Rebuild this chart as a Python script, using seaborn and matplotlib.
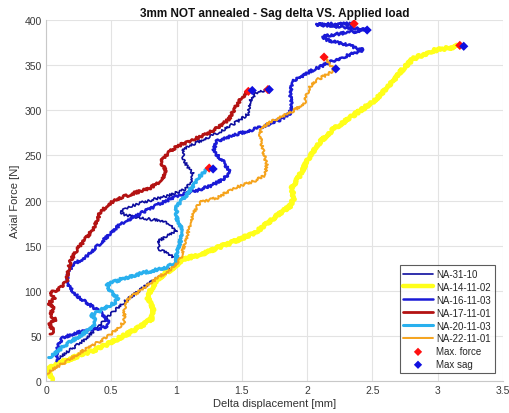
import numpy as np
import pandas as pd
import matplotlib
matplotlib.use("Agg")
import matplotlib.pyplot as plt
import seaborn as sns

# ---- measured curves: delta displacement [mm] vs axial force [N] ----
na31_x = [0.08, 0.18, 0.28, 0.40, 0.51, 0.62, 0.75, 0.87, 0.97, 1.02, 0.95, 0.87, 0.85, 0.93, 1.00,
          0.90, 0.72, 0.60, 0.57, 0.62, 0.74, 0.93, 1.06, 1.10, 1.13, 1.08, 1.05, 1.05, 1.15, 1.33,
          1.46, 1.55, 1.56, 1.61, 1.70]
na31_y = [24, 34, 44, 60, 76, 90, 104, 116, 126, 133, 140, 146, 154, 161, 167,
          177, 181, 184, 188, 192, 198, 205, 212, 218, 229, 238, 248, 257, 264, 276,
          287, 296, 310, 319, 323]

na14_x = [0.05, 0.03, 0.01, 0.10, 0.25, 0.40, 0.50, 0.62, 0.72, 0.81, 0.82, 0.78, 0.80, 0.84, 0.90,
          0.96, 1.05, 1.18, 1.30, 1.43, 1.61, 1.74, 1.87, 1.90, 1.88, 1.94, 2.02, 2.10, 2.20, 2.35,
          2.50, 2.61, 2.71, 2.81, 2.96, 3.08, 3.17]
na14_y = [0, 6, 13, 20, 28, 36, 43, 52, 60, 69, 80, 92, 100, 110, 118,
          124, 135, 140, 147, 154, 165, 180, 194, 203, 213, 227, 249, 265, 279, 294,
          309, 324, 342, 357, 366, 369, 372]

na16_x = [0.08, 0.08, 0.09, 0.12, 0.22, 0.35, 0.47, 0.48, 0.42, 0.33, 0.24, 0.18, 0.16, 0.17, 0.22,
          0.31, 0.44, 0.57, 0.70, 0.85, 1.00, 1.15, 1.26, 1.36, 1.41, 1.36, 1.28, 1.31, 1.45, 1.64,
          1.80, 1.87, 1.88, 1.87, 1.89, 2.02, 2.20, 2.43, 2.30, 2.15, 2.12, 2.30, 2.46, 2.30, 2.07,
          2.25, 2.36]
na16_y = [22, 30, 38, 47, 53, 57, 60, 65, 76, 85, 94, 104, 112, 122, 130,
          138, 156, 174, 184, 195, 205, 211, 216, 224, 231, 243, 255, 266, 273, 281,
          290, 297, 306, 318, 332, 343, 355, 367, 373, 378, 382, 386, 389, 392, 395,
          396, 396]

na17_x = [0.03, 0.06, 0.02, 0.07, 0.03, 0.06, 0.02, 0.07, 0.03, 0.08, 0.12, 0.16, 0.17, 0.19, 0.24,
          0.30, 0.36, 0.41, 0.47, 0.55, 0.67, 0.80, 0.88, 0.92, 0.88, 0.93, 1.00, 1.12, 1.22, 1.32,
          1.40, 1.45, 1.50, 1.55]
na17_y = [52, 56, 62, 68, 74, 80, 86, 92, 97, 101, 104, 112, 122, 134, 146,
          157, 168, 185, 195, 202, 208, 214, 222, 232, 243, 252, 260, 267, 273, 281,
          290, 303, 314, 321]

na20_x = [0.02, 0.06, 0.15, 0.27, 0.36, 0.38, 0.35, 0.44, 0.53, 0.55, 0.49, 0.47, 0.58, 0.75, 0.93,
          1.00, 1.00, 1.03, 1.04, 1.00, 1.00, 1.07, 1.12, 1.16, 1.20, 1.25]
na20_y = [26, 30, 40, 51, 60, 66, 73, 80, 87, 92, 100, 107, 113, 120, 126,
          133, 141, 155, 168, 180, 194, 205, 215, 224, 230, 236]

na22_x = [0.00, 0.05, 0.16, 0.30, 0.45, 0.55, 0.60, 0.60, 0.63, 0.72, 0.81, 0.96, 1.03, 1.05, 1.08,
          1.10, 1.13, 1.18, 1.31, 1.43, 1.60, 1.68, 1.69, 1.66, 1.64, 1.65, 1.76, 1.89, 1.98, 2.00,
          2.02, 2.08, 2.17, 2.21, 2.17, 2.15, 2.13]
na22_y = [8, 13, 22, 35, 47, 58, 66, 80, 91, 100, 110, 124, 135, 146, 160,
          172, 187, 198, 203, 213, 222, 228, 240, 257, 272, 281, 290, 299, 308, 318,
          326, 334, 341, 346, 351, 355, 359]

# peak force and peak sag of each specimen
max_force_x = [1.70, 3.17, 2.36, 1.55, 1.25, 2.13]
max_force_y = [323, 372, 396, 321, 236, 359]
max_sag_x = [1.71, 3.20, 2.46, 1.58, 1.28, 2.22]
max_sag_y = [323, 371, 389, 322, 235, 346]

specimens = ["NA-31-10", "NA-14-11-02", "NA-16-11-03", "NA-17-11-01", "NA-20-11-03", "NA-22-11-01"]
curves = [(na31_x, na31_y), (na14_x, na14_y), (na16_x, na16_y),
          (na17_x, na17_y), (na20_x, na20_y), (na22_x, na22_y)]

colors = ["#0d0d9e", "#ffff1a", "#1a1ad6", "#b31212", "#29b0ee", "#f5a31c"]
widths = [1.2, 3.2, 1.8, 2.0, 2.2, 1.4]

sns.set_theme(style="whitegrid")
plt.rcParams["font.family"] = ["Liberation Sans", "DejaVu Sans"]

fig = plt.figure(figsize=(5.09, 4.14), dpi=100)
ax = fig.add_axes([0.0904, 0.0773, 0.8976, 0.8717])

for name, (cx, cy), col, lw in zip(specimens, curves, colors, widths):
    df = pd.DataFrame({"d": cx, "f": cy})
    sns.lineplot(data=df, x="d", y="f", sort=False, estimator=None, color=col,
                 linewidth=lw, label=name, ax=ax)
    line = ax.lines[-1]
    line.set_sketch_params(scale=1.3, length=2.5, randomness=4)

sns.scatterplot(x=max_force_x, y=max_force_y, marker="D", color="#ff1010", s=22,
                edgecolor="none", label="Max. force", ax=ax, zorder=5)
sns.scatterplot(x=max_sag_x, y=max_sag_y, marker="D", color="#1010e0", s=22,
                edgecolor="none", label="Max sag", ax=ax, zorder=6)

ax.set_xlim(0, 3.5)
ax.set_ylim(0, 400)
ax.set_xticks(np.arange(0, 3.51, 0.5))
ax.set_xticklabels(["0", "0.5", "1", "1.5", "2", "2.5", "3", "3.5"])
ax.set_yticks(np.arange(0, 401, 50))

ax.set_facecolor("white")
ax.grid(True, color="#e3e3e3", linewidth=0.8)
for side in ["top", "right"]:
    ax.spines[side].set_visible(False)
for side in ["left", "bottom"]:
    ax.spines[side].set_color("#c8c8c8")
    ax.spines[side].set_linewidth(0.8)
ax.tick_params(axis="both", direction="in", length=3, width=0.6, color="#555555",
               labelsize=7.5, labelcolor="#3a3a3a", pad=3)

ax.set_xlabel("Delta displacement [mm]", fontsize=8, color="#333333", labelpad=2)
ax.set_ylabel("Axial Force [N]", fontsize=8, color="#333333", labelpad=3)
ax.set_title("3mm NOT annealed - Sag delta VS. Applied load", fontsize=8.5,
             fontweight="bold", color="#111111", pad=3)

leg = ax.legend(loc="lower right", fontsize=7, frameon=True, fancybox=False,
                handlelength=3.0, handletextpad=0.4, labelspacing=0.3,
                borderpad=0.4, borderaxespad=0.8, markerscale=0.9)
leg.get_frame().set_edgecolor("#333333")
leg.get_frame().set_linewidth(0.8)
for h in leg.get_lines():
    h.set_sketch_params(None)

fig.savefig("out.png", dpi=100, facecolor="white")
